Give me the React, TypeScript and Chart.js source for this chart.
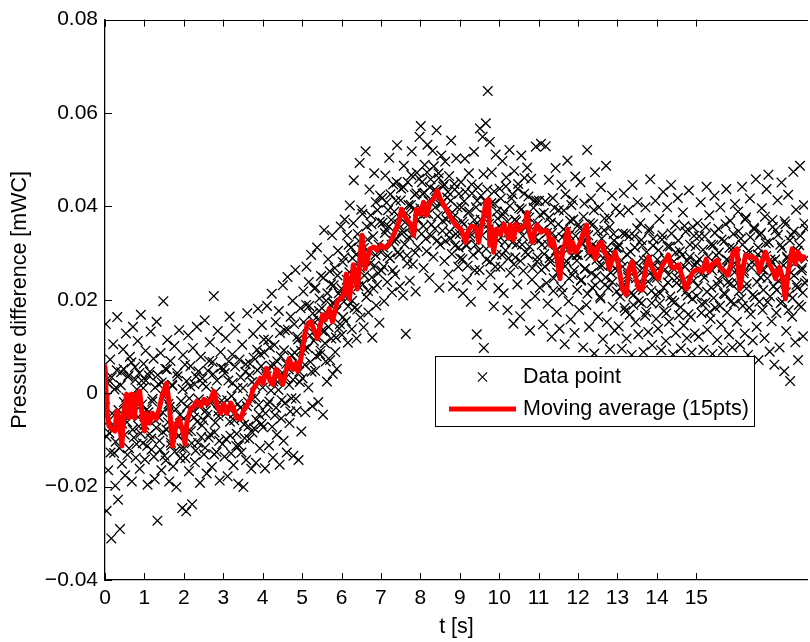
import React, { useEffect, useRef } from "react";
import { Chart, registerables } from "chart.js";

Chart.register(...registerables);

// ---------- data ----------
const X_MIN = 0;
const X_MAX = 17.83;
const Y_MIN = -0.04;
const Y_MAX = 0.08;

const xTickValues = [0, 1, 2, 3, 4, 5, 6, 7, 8, 9, 10, 11, 12, 13, 14, 15];
const xTickLabels = ["0", "1", "2", "3", "4", "5", "6", "7", "8", "9", "10", "11", "12", "13", "14", "15"];
const yTickValues = [-0.04, -0.02, 0, 0.02, 0.04, 0.06, 0.08];
const yTickLabels = ["\u22120.04", "\u22120.02", "0", "0.02", "0.04", "0.06", "0.08"];

const xTitle = "t [s]";
const yTitle = "Pressure difference [mWC]";
const scatterLabel = "Data point";
const avgLabel = "Moving average (15pts)";

// raw samples [t, dp]
const pointsSec0to3 = [
  [0.02,0.0148],[0.04,-0.0252],[0.06,0.0031],[0.08,-0.0165],[0.11,-0.0085],[0.13,0.0072],[0.16,-0.0311],[0.18,-0.0043],[0.21,0.0105],[0.23,-0.0128],[0.26,-0.0198],[0.28,0.0012],[0.31,0.0163],[0.33,-0.0228],[0.36,-0.0072],[0.38,-0.0291],[0.41,0.0045],[0.43,-0.0151],[0.46,0.0094],[0.48,-0.0019],[0.51,-0.0176],[0.53,0.0128],[0.56,-0.0062],[0.58,0.0035],[0.61,-0.0118],[0.63,0.0078],[0.66,-0.0024],[0.68,-0.0189],[0.71,0.0142],[0.73,-0.0095],[0.76,0.0056],[0.78,-0.0138],[0.81,0.0008],[0.83,0.0112],[0.86,-0.0071],[0.88,-0.0162],[0.91,0.0168],[0.93,0.0027],[0.96,-0.0107],[0.98,0.0063],
  [1.01,-0.0142],[1.03,0.0091],[1.06,-0.0035],[1.08,-0.0196],[1.11,0.0038],[1.13,-0.0087],[1.16,0.0132],[1.18,-0.0121],[1.21,-0.0012],[1.23,0.0074],[1.26,-0.0184],[1.28,-0.0058],[1.31,0.0153],[1.33,-0.0273],[1.36,0.0019],[1.38,-0.0102],[1.41,0.0086],[1.43,-0.0165],[1.46,-0.0041],[1.48,0.0197],[1.51,-0.0134],[1.53,0.0052],[1.56,-0.0078],[1.58,0.0114],[1.61,-0.0023],[1.63,-0.0189],[1.66,0.0069],[1.68,-0.0112],[1.71,0.0016],[1.73,-0.0157],[1.76,0.0101],[1.78,-0.0066],[1.81,-0.0201],[1.83,0.0043],[1.86,-0.0092],[1.88,0.0135],[1.91,-0.0139],[1.93,-0.0017],[1.96,-0.0246],[1.98,0.0082],
  [2.01,-0.0118],[2.03,0.0061],[2.06,-0.0253],[2.08,-0.0029],[2.11,0.0124],[2.13,-0.0167],[2.16,0.0015],[2.18,-0.0081],[2.21,-0.0238],[2.23,0.0097],[2.26,-0.0052],[2.28,-0.0148],[2.31,0.0036],[2.33,0.0142],[2.36,-0.0106],[2.38,-0.0013],[2.41,-0.0192],[2.43,0.0078],[2.46,-0.0069],[2.48,0.0021],[2.51,-0.0131],[2.53,0.0156],[2.56,-0.0037],[2.58,-0.0172],[2.61,0.0048],[2.63,-0.0095],[2.66,0.0109],[2.68,-0.0021],[2.71,-0.0158],[2.73,0.0067],[2.76,0.0208],[2.78,-0.0084],[2.81,0.0003],[2.83,-0.0126],[2.86,0.0133],[2.88,-0.0049],[2.91,-0.0187],[2.93,0.0088],[2.96,-0.0016],[2.98,-0.0109],
];

const pointsSec3to6 = [
  [3.01,0.0052],[3.03,-0.0136],[3.06,0.0118],[3.08,-0.0042],[3.11,-0.0178],[3.13,0.0027],[3.16,0.0164],[3.18,-0.0091],[3.21,-0.0006],[3.23,0.0083],[3.26,-0.0154],[3.28,-0.0058],[3.31,0.0139],[3.33,-0.0113],[3.36,0.0011],[3.38,-0.0194],[3.41,0.0072],[3.43,-0.0031],[3.46,-0.0127],[3.48,0.0104],[3.51,-0.0201],[3.53,-0.0067],[3.56,0.0046],[3.58,-0.0143],[3.61,0.0171],[3.63,-0.0019],[3.66,-0.0098],[3.68,0.0063],[3.71,-0.0162],[3.73,0.0024],[3.76,0.0127],[3.78,-0.0075],[3.81,-0.0008],[3.83,-0.0149],[3.86,0.0093],[3.88,0.0181],[3.91,-0.0046],[3.93,-0.0118],[3.96,0.0058],[3.98,0.0146],
  [4.01,-0.0073],[4.03,0.0115],[4.06,-0.0161],[4.08,0.0042],[4.11,0.0187],[4.13,-0.0024],[4.16,-0.0112],[4.18,0.0098],[4.21,0.0006],[4.23,0.0213],[4.26,-0.0138],[4.28,0.0061],[4.31,-0.0047],[4.33,0.0152],[4.36,-0.0089],[4.38,0.0024],[4.41,0.0176],[4.43,-0.0153],[4.46,0.0079],[4.48,-0.0015],[4.51,0.0231],[4.53,-0.0102],[4.56,0.0135],[4.58,0.0033],[4.61,-0.0127],[4.63,0.0249],[4.66,0.0051],[4.68,-0.0064],[4.71,0.0164],[4.73,-0.0011],[4.76,0.0198],[4.78,-0.0134],[4.81,0.0087],[4.83,0.0264],[4.86,-0.0038],[4.88,0.0121],[4.91,-0.0143],[4.93,0.0046],[4.96,0.0182],[4.98,-0.0082],
  [5.01,0.0032],[5.03,0.0218],[5.06,0.0094],[5.08,-0.0041],[5.11,0.0271],[5.13,0.0143],[5.16,0.0012],[5.18,0.0187],[5.21,0.0067],[5.23,0.0296],[5.26,-0.0028],[5.28,0.0155],[5.31,0.0224],[5.33,0.0048],[5.36,0.0119],[5.38,0.0312],[5.41,-0.0019],[5.43,0.0176],[5.46,0.0083],[5.48,0.0251],[5.51,0.0134],[5.53,-0.0046],[5.56,0.0349],[5.58,0.0107],[5.61,0.0198],[5.63,0.0025],[5.66,0.0287],[5.68,0.0162],[5.71,0.0071],[5.73,0.0233],[5.76,0.0338],[5.78,0.0041],[5.81,0.0192],[5.83,0.0268],[5.86,0.0119],[5.88,0.0052],[5.91,0.0305],[5.93,0.0214],[5.96,0.0148],[5.98,0.0357],
];

const pointsSec6to9 = [
  [6.01,0.0125],[6.03,0.0281],[6.06,0.0196],[6.08,0.0372],[6.11,0.0154],[6.13,0.0243],[6.16,0.0108],[6.18,0.0318],[6.21,0.0402],[6.23,0.0221],[6.26,0.0137],[6.28,0.0289],[6.31,0.0456],[6.33,0.0183],[6.36,0.0265],[6.38,0.0117],[6.41,0.0341],[6.43,0.0229],[6.46,0.0493],[6.48,0.0162],[6.51,0.0307],[6.53,0.0384],[6.56,0.0141],[6.58,0.0252],[6.61,0.0518],[6.63,0.0206],[6.66,0.0329],[6.68,0.0173],[6.71,0.0436],[6.73,0.0278],[6.76,0.0362],[6.78,0.0119],[6.81,0.0224],[6.83,0.0471],[6.86,0.0296],[6.88,0.0188],[6.91,0.0392],[6.93,0.0257],[6.96,0.0151],[6.98,0.0423],
  [7.01,0.0263],[7.03,0.0418],[7.06,0.0312],[7.08,0.0197],[7.11,0.0466],[7.13,0.0351],[7.16,0.0238],[7.18,0.0392],[7.21,0.0504],[7.23,0.0289],[7.26,0.0371],[7.28,0.0216],[7.31,0.0447],[7.33,0.0326],[7.36,0.0254],[7.38,0.0412],[7.41,0.0531],[7.43,0.0302],[7.46,0.0378],[7.48,0.0229],[7.51,0.0438],[7.53,0.0341],[7.56,0.0209],[7.58,0.0487],[7.61,0.0366],[7.63,0.0127],[7.66,0.0295],[7.68,0.0452],[7.71,0.0334],[7.73,0.0241],[7.76,0.0403],[7.78,0.0518],[7.81,0.0276],[7.83,0.0359],[7.86,0.0425],[7.88,0.0218],[7.91,0.0472],[7.93,0.0313],[7.96,0.0386],[7.98,0.0549],
  [8.01,0.0572],[8.03,0.0341],[8.06,0.0427],[8.08,0.0268],[8.11,0.0489],[8.13,0.0385],[8.16,0.0304],[8.18,0.0532],[8.21,0.0412],[8.23,0.0247],[8.26,0.0458],[8.28,0.0361],[8.31,0.0519],[8.33,0.0292],[8.36,0.0436],[8.38,0.0398],[8.41,0.0563],[8.43,0.0327],[8.46,0.0471],[8.48,0.0226],[8.51,0.0404],[8.53,0.0509],[8.56,0.0348],[8.58,0.0443],[8.61,0.0283],[8.63,0.0496],[8.66,0.0372],[8.68,0.0419],[8.71,0.0254],[8.73,0.0465],[8.76,0.0331],[8.78,0.0541],[8.81,0.0387],[8.83,0.0229],[8.86,0.0448],[8.88,0.0316],[8.91,0.0503],[8.93,0.0362],[8.96,0.0271],[8.98,0.0427],
];

const pointsSec9to12 = [
  [9.01,0.0289],[9.03,0.0452],[9.06,0.0367],[9.08,0.0214],[9.11,0.0411],[9.13,0.0502],[9.16,0.0318],[9.18,0.0243],[9.21,0.0386],[9.23,0.0471],[9.26,0.0335],[9.28,0.0196],[9.31,0.0428],[9.33,0.0354],[9.36,0.0517],[9.38,0.0263],[9.41,0.0398],[9.43,0.0126],[9.46,0.0441],[9.48,0.0305],[9.51,0.0567],[9.53,0.0372],[9.56,0.0231],[9.58,0.0549],[9.61,0.0097],[9.63,0.0412],[9.66,0.0578],[9.68,0.0286],[9.71,0.0647],[9.73,0.0351],[9.76,0.0538],[9.78,0.0254],[9.81,0.0473],[9.83,0.0329],[9.86,0.0186],[9.88,0.0406],[9.91,0.0511],[9.93,0.0297],[9.96,0.0374],[9.98,0.0225],
  [10.01,0.0438],[10.03,0.0271],[10.06,0.0352],[10.08,0.0497],[10.11,0.0214],[10.13,0.0389],[10.16,0.0306],[10.18,0.0462],[10.21,0.0178],[10.23,0.0344],[10.26,0.0521],[10.28,0.0258],[10.31,0.0417],[10.33,0.0323],[10.36,0.0149],[10.38,0.0476],[10.41,0.0291],[10.43,0.0368],[10.46,0.0233],[10.48,0.0448],[10.51,0.0396],[10.53,0.0165],[10.56,0.0509],[10.58,0.0318],[10.61,0.0262],[10.63,0.0427],[10.66,0.0354],[10.68,0.0191],[10.71,0.0483],[10.73,0.0297],[10.76,0.0376],[10.78,0.0134],[10.81,0.0459],[10.83,0.0243],[10.86,0.0331],[10.88,0.0412],[10.91,0.0208],[10.93,0.0528],[10.96,0.0282],[10.98,0.0363],
  [11.01,0.0412],[11.03,0.0226],[11.06,0.0534],[11.08,0.0318],[11.11,0.0147],[11.13,0.0386],[11.16,0.0271],[11.18,0.0529],[11.21,0.0343],[11.23,0.0192],[11.26,0.0457],[11.28,0.0289],[11.31,0.0365],[11.33,0.0121],[11.36,0.0418],[11.38,0.0246],[11.41,0.0333],[11.43,0.0482],[11.46,0.0174],[11.48,0.0307],[11.51,0.0392],[11.53,0.0138],[11.56,0.0263],[11.58,0.0446],[11.61,0.0215],[11.63,0.0351],[11.66,0.0105],[11.68,0.0426],[11.71,0.0282],[11.73,0.0498],[11.76,0.0197],[11.78,0.0339],[11.81,0.0158],[11.83,0.0403],[11.86,0.0253],[11.88,0.0372],[11.91,0.0129],[11.93,0.0464],[11.96,0.0296],[11.98,0.0221],
];

const pointsSec12to15 = [
  [12.01,0.0361],[12.03,0.0178],[12.06,0.0452],[12.08,0.0243],[12.11,0.0319],[12.13,0.0098],[12.16,0.0406],[12.18,0.0267],[12.21,0.0189],[12.23,0.0521],[12.26,0.0338],[12.28,0.0142],[12.31,0.0294],[12.33,0.0417],[12.36,0.0226],[12.38,0.0362],[12.41,0.0085],[12.43,0.0473],[12.46,0.0251],[12.48,0.0312],[12.51,0.0164],[12.53,0.0398],[12.56,0.0207],[12.58,0.0441],[12.61,0.0273],[12.63,0.0116],[12.66,0.0349],[12.68,0.0232],[12.71,0.0487],[12.73,0.0152],[12.76,0.0301],[12.78,0.0376],[12.81,0.0094],[12.83,0.0258],[12.86,0.0423],[12.88,0.0185],[12.91,0.0327],[12.93,0.0134],[12.96,0.0396],[12.98,0.0218],
  [13.01,0.0312],[13.03,0.0143],[13.06,0.0387],[13.08,0.0226],[13.11,0.0095],[13.13,0.0271],[13.16,0.0428],[13.18,0.0183],[13.21,0.0341],[13.23,0.0117],[13.26,0.0254],[13.28,0.0392],[13.31,0.0168],[13.33,0.0303],[13.36,0.0082],[13.38,0.0446],[13.41,0.0211],[13.43,0.0336],[13.46,0.0152],[13.48,0.0278],[13.51,0.0409],[13.53,0.0126],[13.56,0.0239],[13.58,0.0364],[13.61,0.0193],[13.63,0.0317],[13.66,0.0088],[13.68,0.0264],[13.71,0.0398],[13.73,0.0174],[13.76,0.0286],[13.78,0.0131],[13.81,0.0352],[13.83,0.0458],[13.86,0.0219],[13.88,0.0103],[13.91,0.0331],[13.93,0.0247],[13.96,0.0412],[13.98,0.0159],
  [14.01,0.0286],[14.03,0.0138],[14.06,0.0373],[14.08,0.0214],[14.11,0.0092],[14.13,0.0329],[14.16,0.0431],[14.18,0.0176],[14.21,0.0265],[14.23,0.0112],[14.26,0.0398],[14.28,0.0237],[14.31,0.0153],[14.33,0.0314],[14.36,0.0446],[14.38,0.0198],[14.41,0.0083],[14.43,0.0282],[14.46,0.0361],[14.48,0.0129],[14.51,0.0247],[14.53,0.0418],[14.56,0.0167],[14.58,0.0304],[14.61,0.0096],[14.63,0.0226],[14.66,0.0387],[14.68,0.0145],[14.71,0.0271],[14.73,0.0346],[14.76,0.0118],[14.78,0.0209],[14.81,0.0434],[14.83,0.0292],[14.86,0.0163],[14.88,0.0087],[14.91,0.0356],[14.93,0.0241],[14.96,0.0128],[14.98,0.0315],
];

const pointsSec15to18 = [
  [15.01,0.0208],[15.03,0.0364],[15.06,0.0121],[15.08,0.0287],[15.11,0.0409],[15.13,0.0172],[15.16,0.0258],[15.18,0.0093],[15.21,0.0336],[15.23,0.0194],[15.26,0.0442],[15.28,0.0136],[15.31,0.0273],[15.33,0.0381],[15.36,0.0159],[15.38,0.0226],[15.41,0.0084],[15.43,0.0317],[15.46,0.0423],[15.48,0.0183],[15.51,0.0295],[15.53,0.0114],[15.56,0.0352],[15.58,0.0241],[15.61,0.0398],[15.63,0.0147],[15.66,0.0268],[15.68,0.0091],[15.71,0.0326],[15.73,0.0212],[15.76,0.0437],[15.78,0.0173],[15.81,0.0284],[15.83,0.0126],[15.86,0.0369],[15.88,0.0235],[15.91,0.0098],[15.93,0.0311],[15.96,0.0192],[15.98,0.0405],
  [16.01,0.0276],[16.03,0.0153],[16.06,0.0389],[16.08,0.0218],[16.11,0.0104],[16.13,0.0331],[16.16,0.0442],[16.18,0.0187],[16.21,0.0262],[16.23,0.0128],[16.26,0.0376],[16.28,0.0234],[16.31,0.0082],[16.33,0.0305],[16.36,0.0417],[16.38,0.0169],[16.41,0.0281],[16.43,0.0113],[16.46,0.0354],[16.48,0.0206],[16.51,0.0458],[16.53,0.0142],[16.56,0.0297],[16.58,0.0071],[16.61,0.0339],[16.63,0.0248],[16.66,0.0396],[16.68,0.0178],[16.71,0.0264],[16.73,0.0118],[16.76,0.0321],[16.78,0.0437],[16.81,0.0195],[16.83,0.0468],[16.86,0.0089],[16.88,0.0286],[16.91,0.0154],[16.93,0.0371],[16.96,0.0229],[16.98,0.0061],
  [17.01,0.0349],[17.03,0.0172],[17.06,0.0413],[17.08,0.0241],[17.11,0.0098],[17.13,0.0318],[17.16,0.0451],[17.18,0.0196],[17.21,0.0274],[17.23,0.0047],[17.26,0.0362],[17.28,0.0133],[17.31,0.0289],[17.33,0.0425],[17.36,0.0211],[17.38,0.0026],[17.41,0.0338],[17.43,0.0164],[17.46,0.0474],[17.48,0.0252],[17.51,0.0109],[17.53,0.0393],[17.56,0.0226],[17.58,0.0071],[17.61,0.0317],[17.63,0.0487],[17.66,0.0185],[17.68,0.0268],[17.71,0.0122],[17.73,0.0403],[17.76,0.0236],[17.78,0.0352],
];

// additional samples of the dense core around the trend [t, dp]
const corePointsSec0to6 = [
  [0.00,-0.0012],[0.04,-0.0093],[0.07,0.0021],[0.10,-0.0058],[0.14,-0.0127],[0.17,0.0034],[0.20,-0.0071],[0.24,0.0008],[0.27,-0.0104],[0.30,0.0049],[0.34,-0.0036],[0.37,-0.0118],[0.40,0.0017],[0.44,-0.0065],[0.47,0.0052],[0.50,-0.0089],[0.54,-0.0009],[0.57,-0.0132],[0.60,0.0038],[0.64,-0.0047],[0.67,0.0066],[0.70,-0.0078],[0.74,-0.0016],[0.77,0.0029],[0.80,-0.0109],[0.84,-0.0051],[0.87,0.0043],[0.90,-0.0086],[0.94,-0.0024],[0.97,0.0011],
  [1.00,-0.0068],[1.04,0.0027],[1.07,-0.0113],[1.10,-0.0041],[1.14,0.0046],[1.17,-0.0097],[1.20,-0.0018],[1.24,-0.0136],[1.27,0.0012],[1.30,-0.0074],[1.34,0.0039],[1.37,-0.0052],[1.40,-0.0121],[1.44,0.0023],[1.47,-0.0083],[1.50,-0.0007],[1.54,-0.0144],[1.57,0.0051],[1.60,-0.0062],[1.64,-0.0029],[1.67,-0.0106],[1.70,0.0018],[1.74,-0.0079],[1.77,-0.0125],[1.80,-0.0034],[1.84,0.0036],[1.87,-0.0091],[1.90,-0.0047],[1.94,-0.0118],[1.97,0.0009],
  [2.00,-0.0054],[2.04,-0.0139],[2.07,0.0026],[2.10,-0.0082],[2.14,-0.0011],[2.17,0.0058],[2.20,-0.0107],[2.24,-0.0038],[2.27,0.0019],[2.30,-0.0123],[2.34,-0.0061],[2.37,0.0047],[2.40,-0.0029],[2.44,-0.0094],[2.47,0.0032],[2.50,-0.0058],[2.54,-0.0117],[2.57,0.0014],[2.60,-0.0046],[2.64,0.0069],[2.67,-0.0088],[2.70,-0.0017],[2.74,0.0041],[2.77,-0.0131],[2.80,-0.0063],[2.84,0.0027],[2.87,-0.0039],[2.90,-0.0102],[2.94,0.0055],[2.97,-0.0024],
  [3.00,-0.0036],[3.04,0.0043],[3.07,-0.0098],[3.10,-0.0015],[3.14,0.0068],[3.17,-0.0061],[3.20,-0.0129],[3.24,0.0022],[3.27,-0.0044],[3.30,0.0057],[3.34,-0.0087],[3.37,-0.0023],[3.40,-0.0112],[3.44,0.0034],[3.47,-0.0053],[3.50,0.0011],[3.54,-0.0096],[3.57,0.0062],[3.60,-0.0028],[3.64,-0.0071],[3.67,0.0039],[3.70,-0.0012],[3.74,-0.0084],[3.77,0.0076],[3.80,0.0018],[3.84,-0.0057],[3.87,0.0049],[3.90,-0.0025],[3.94,0.0083],[3.97,-0.0066],
  [4.00,0.0012],[4.04,0.0087],[4.07,-0.0043],[4.10,0.0036],[4.14,0.0114],[4.17,-0.0018],[4.20,0.0059],[4.24,-0.0072],[4.27,0.0025],[4.30,0.0103],[4.34,-0.0031],[4.37,0.0068],[4.40,0.0007],[4.44,0.0129],[4.47,-0.0054],[4.50,0.0044],[4.54,0.0092],[4.57,-0.0021],[4.60,0.0063],[4.64,0.0136],[4.67,0.0018],[4.70,-0.0039],[4.74,0.0081],[4.77,0.0029],[4.80,0.0148],[4.84,-0.0012],[4.87,0.0067],[4.90,0.0115],[4.94,0.0024],[4.97,0.0091],
  [5.00,0.0103],[5.04,0.0152],[5.07,0.0061],[5.10,0.0189],[5.14,0.0097],[5.17,0.0238],[5.20,0.0124],[5.24,0.0046],[5.27,0.0171],[5.30,0.0112],[5.34,0.0226],[5.37,0.0079],[5.40,0.0158],[5.44,0.0203],[5.47,0.0091],[5.50,0.0182],[5.54,0.0247],[5.57,0.0133],[5.60,0.0068],[5.64,0.0214],[5.67,0.0142],[5.70,0.0261],[5.74,0.0117],[5.77,0.0193],[5.80,0.0231],[5.84,0.0088],[5.87,0.0176],[5.90,0.0252],[5.94,0.0139],[5.97,0.0209],
];

const corePointsSec6to12 = [
  [6.00,0.0224],[6.04,0.0163],[6.07,0.0291],[6.10,0.0207],[6.14,0.0338],[6.17,0.0186],[6.20,0.0259],[6.24,0.0312],[6.27,0.0198],[6.30,0.0364],[6.34,0.0241],[6.37,0.0297],[6.40,0.0179],[6.44,0.0326],[6.47,0.0268],[6.50,0.0393],[6.54,0.0233],[6.57,0.0311],[6.60,0.0284],[6.64,0.0357],[6.67,0.0219],[6.70,0.0304],[6.74,0.0381],[6.77,0.0248],[6.80,0.0336],[6.84,0.0273],[6.87,0.0409],[6.90,0.0232],[6.94,0.0318],[6.97,0.0367],
  [7.00,0.0302],[7.04,0.0365],[7.07,0.0271],[7.10,0.0343],[7.14,0.0408],[7.17,0.0294],[7.20,0.0357],[7.24,0.0426],[7.27,0.0318],[7.30,0.0263],[7.34,0.0389],[7.37,0.0331],[7.40,0.0452],[7.44,0.0362],[7.47,0.0297],[7.50,0.0413],[7.54,0.0348],[7.57,0.0441],[7.60,0.0319],[7.64,0.0386],[7.67,0.0278],[7.70,0.0403],[7.74,0.0356],[7.77,0.0467],[7.80,0.0338],[7.84,0.0394],[7.87,0.0301],[7.90,0.0428],[7.94,0.0372],[7.97,0.0459],
  [8.00,0.0396],[8.04,0.0452],[8.07,0.0358],[8.10,0.0429],[8.14,0.0331],[8.17,0.0473],[8.20,0.0384],[8.24,0.0441],[8.27,0.0337],[8.30,0.0412],[8.34,0.0486],[8.37,0.0352],[8.40,0.0433],[8.44,0.0379],[8.47,0.0461],[8.50,0.0318],[8.54,0.0407],[8.57,0.0369],[8.60,0.0447],[8.64,0.0326],[8.67,0.0393],[8.70,0.0431],[8.74,0.0346],[8.77,0.0412],[8.80,0.0298],[8.84,0.0377],[8.87,0.0436],[8.90,0.0341],[8.94,0.0398],[8.97,0.0312],
  [9.00,0.0341],[9.04,0.0398],[9.07,0.0287],[9.10,0.0362],[9.14,0.0431],[9.17,0.0316],[9.20,0.0273],[9.24,0.0389],[9.27,0.0342],[9.30,0.0447],[9.34,0.0296],[9.37,0.0371],[9.40,0.0318],[9.44,0.0412],[9.47,0.0357],[9.50,0.0264],[9.54,0.0423],[9.57,0.0338],[9.60,0.0469],[9.64,0.0381],[9.67,0.0309],[9.70,0.0436],[9.74,0.0363],[9.77,0.0282],[9.80,0.0407],[9.84,0.0346],[9.87,0.0432],[9.90,0.0271],[9.94,0.0389],[9.97,0.0327],
  [10.00,0.0358],[10.04,0.0417],[10.07,0.0296],[10.10,0.0382],[10.14,0.0324],[10.17,0.0443],[10.20,0.0367],[10.24,0.0289],[10.27,0.0401],[10.30,0.0343],[10.34,0.0426],[10.37,0.0276],[10.40,0.0372],[10.44,0.0319],[10.47,0.0438],[10.50,0.0351],[10.54,0.0283],[10.57,0.0394],[10.60,0.0337],[10.64,0.0461],[10.67,0.0302],[10.70,0.0378],[10.74,0.0421],[10.77,0.0314],[10.80,0.0356],[10.84,0.0268],[10.87,0.0397],[10.90,0.0333],[10.94,0.0412],[10.97,0.0291],
  [11.00,0.0327],[11.04,0.0382],[11.07,0.0264],[11.10,0.0349],[11.14,0.0298],[11.17,0.0411],[11.20,0.0236],[11.24,0.0318],[11.27,0.0376],[11.30,0.0281],[11.34,0.0343],[11.37,0.0219],[11.40,0.0397],[11.44,0.0306],[11.47,0.0258],[11.50,0.0362],[11.54,0.0289],[11.57,0.0227],[11.60,0.0334],[11.64,0.0391],[11.67,0.0272],[11.70,0.0346],[11.74,0.0308],[11.77,0.0246],[11.80,0.0369],[11.84,0.0295],[11.87,0.0413],[11.90,0.0263],[11.94,0.0337],[11.97,0.0284],
];

const corePointsSec12to18 = [
  [12.00,0.0296],[12.04,0.0353],[12.07,0.0241],[12.10,0.0322],[12.14,0.0378],[12.17,0.0266],[12.20,0.0339],[12.24,0.0213],[12.27,0.0301],[12.30,0.0364],[12.34,0.0257],[12.37,0.0318],[12.40,0.0392],[12.44,0.0231],[12.47,0.0286],[12.50,0.0347],[12.54,0.0272],[12.57,0.0203],[12.60,0.0331],[12.64,0.0289],[12.67,0.0374],[12.70,0.0248],[12.74,0.0312],[12.77,0.0226],[12.80,0.0356],[12.84,0.0293],[12.87,0.0238],[12.90,0.0341],[12.94,0.0267],[12.97,0.0311],
  [13.00,0.0263],[13.04,0.0318],[13.07,0.0207],[13.10,0.0284],[13.14,0.0342],[13.17,0.0231],[13.20,0.0176],[13.24,0.0297],[13.27,0.0248],[13.30,0.0336],[13.34,0.0214],[13.37,0.0271],[13.40,0.0189],[13.44,0.0312],[13.47,0.0246],[13.50,0.0353],[13.54,0.0197],[13.57,0.0262],[13.60,0.0328],[13.64,0.0221],[13.67,0.0284],[13.70,0.0166],[13.74,0.0302],[13.77,0.0239],[13.80,0.0347],[13.84,0.0258],[13.87,0.0193],[13.90,0.0316],[13.94,0.0274],[13.97,0.0211],
  [14.00,0.0247],[14.04,0.0306],[14.07,0.0192],[14.10,0.0273],[14.14,0.0338],[14.17,0.0226],[14.20,0.0289],[14.24,0.0171],[14.27,0.0314],[14.30,0.0253],[14.34,0.0207],[14.37,0.0342],[14.40,0.0268],[14.44,0.0194],[14.47,0.0301],[14.50,0.0236],[14.54,0.0327],[14.57,0.0262],[14.60,0.0184],[14.64,0.0296],[14.67,0.0241],[14.70,0.0358],[14.74,0.0218],[14.77,0.0283],[14.80,0.0169],[14.84,0.0318],[14.87,0.0257],[14.90,0.0202],[14.94,0.0337],[14.97,0.0274],
  [15.00,0.0281],[15.04,0.0229],[15.07,0.0336],[15.10,0.0262],[15.14,0.0191],[15.17,0.0307],[15.20,0.0248],[15.24,0.0356],[15.27,0.0217],[15.30,0.0292],[15.34,0.0174],[15.37,0.0318],[15.40,0.0263],[15.44,0.0204],[15.47,0.0343],[15.50,0.0276],[15.54,0.0232],[15.57,0.0301],[15.60,0.0187],[15.64,0.0329],[15.67,0.0254],[15.70,0.0214],[15.74,0.0362],[15.77,0.0286],[15.80,0.0237],[15.84,0.0311],[15.87,0.0196],[15.90,0.0273],[15.94,0.0341],[15.97,0.0259],
  [16.00,0.0298],[16.04,0.0236],[16.07,0.0347],[16.10,0.0271],[16.14,0.0203],[16.17,0.0318],[16.20,0.0257],[16.24,0.0372],[16.27,0.0224],[16.30,0.0296],[16.34,0.0183],[16.37,0.0334],[16.40,0.0269],[16.44,0.0211],[16.47,0.0351],[16.50,0.0287],[16.54,0.0238],[16.57,0.0312],[16.60,0.0196],[16.64,0.0343],[16.67,0.0265],[16.70,0.0221],[16.74,0.0378],[16.77,0.0294],[16.80,0.0246],[16.84,0.0323],[16.87,0.0207],[16.90,0.0281],[16.94,0.0356],[16.97,0.0262],
  [17.00,0.0286],[17.04,0.0221],[17.07,0.0339],[17.10,0.0264],[17.14,0.0193],[17.17,0.0311],[17.20,0.0247],[17.24,0.0368],[17.27,0.0216],[17.30,0.0292],[17.34,0.0178],[17.37,0.0327],[17.40,0.0258],[17.44,0.0204],[17.47,0.0346],[17.50,0.0279],[17.54,0.0232],[17.57,0.0305],[17.60,0.0189],[17.64,0.0337],[17.67,0.0263],[17.70,0.0215],[17.74,0.0364],[17.77,0.0288],[17.80,0.0241],
];

// moving average (15 pts) [t, dp]
const movingAverage = [
  [0.00,0.0057],[0.03,-0.0006],[0.05,-0.0038],[0.10,-0.0070],[0.18,-0.0077],[0.25,-0.0081],[0.30,-0.0038],[0.35,-0.0049],[0.43,-0.0113],[0.48,-0.0038],
  [0.55,-0.0002],[0.60,-0.0053],[0.68,-0.0002],[0.75,-0.0053],[0.80,-0.0002],[0.88,0.0004],[0.95,-0.0053],[1.00,-0.0081],[1.05,-0.0043],[1.13,-0.0064],
  [1.20,-0.0043],[1.30,-0.0055],[1.38,-0.0032],[1.46,-0.0002],[1.56,0.0021],[1.63,-0.0023],[1.71,-0.0113],[1.81,-0.0066],[1.88,-0.0055],[1.96,-0.0077],
  [2.03,-0.0109],[2.08,-0.0060],[2.18,-0.0032],[2.26,-0.0028],[2.33,-0.0017],[2.43,-0.0028],[2.51,-0.0013],[2.58,-0.0023],[2.68,-0.0013],[2.76,0.0004],
  [2.83,-0.0023],[2.93,-0.0043],[3.01,-0.0023],[3.09,-0.0043],[3.19,-0.0021],[3.26,-0.0032],[3.34,-0.0053],[3.44,-0.0055],[3.51,-0.0038],[3.59,-0.0028],
  [3.69,-0.0011],[3.76,0.0009],[3.84,0.0019],[3.94,0.0032],[4.01,0.0021],[4.09,0.0053],[4.19,0.0026],[4.26,0.0019],[4.34,0.0051],[4.44,0.0034],
  [4.51,0.0019],[4.59,0.0047],[4.67,0.0074],[4.77,0.0051],[4.84,0.0064],[4.89,0.0047],[4.97,0.0074],[5.07,0.0126],[5.14,0.0149],[5.22,0.0153],
  [5.32,0.0132],[5.39,0.0117],[5.47,0.0149],[5.52,0.0168],[5.59,0.0157],[5.69,0.0181],[5.77,0.0153],[5.84,0.0179],[5.89,0.0196],[5.99,0.0204],
  [6.07,0.0213],[6.12,0.0255],[6.20,0.0202],[6.30,0.0275],[6.40,0.0223],[6.47,0.0292],[6.52,0.0338],[6.60,0.0266],[6.67,0.0292],[6.72,0.0309],
  [6.82,0.0313],[6.90,0.0306],[7.00,0.0317],[7.10,0.0311],[7.20,0.0319],[7.32,0.0338],[7.45,0.0366],[7.52,0.0394],[7.65,0.0372],[7.75,0.0362],
  [7.83,0.0338],[7.90,0.0394],[8.00,0.0383],[8.08,0.0409],[8.15,0.0381],[8.25,0.0409],[8.33,0.0415],[8.43,0.0434],[8.50,0.0417],[8.60,0.0402],
  [8.70,0.0387],[8.80,0.0372],[8.90,0.0360],[9.03,0.0351],[9.15,0.0323],[9.23,0.0351],[9.31,0.0358],[9.41,0.0355],[9.48,0.0323],[9.56,0.0362],
  [9.61,0.0381],[9.66,0.0409],[9.73,0.0415],[9.76,0.0317],[9.81,0.0353],[9.86,0.0302],[9.93,0.0351],[10.03,0.0340],[10.11,0.0362],[10.16,0.0351],
  [10.23,0.0332],[10.28,0.0360],[10.36,0.0328],[10.43,0.0362],[10.51,0.0349],[10.58,0.0355],[10.66,0.0362],[10.71,0.0387],[10.76,0.0345],[10.84,0.0323],
  [10.91,0.0351],[10.96,0.0360],[11.06,0.0345],[11.16,0.0349],[11.24,0.0345],[11.29,0.0317],[11.36,0.0330],[11.44,0.0302],[11.54,0.0245],[11.61,0.0309],
  [11.66,0.0317],[11.74,0.0351],[11.79,0.0302],[11.86,0.0323],[11.94,0.0302],[12.04,0.0319],[12.11,0.0338],[12.21,0.0360],[12.29,0.0302],[12.37,0.0311],
  [12.44,0.0287],[12.52,0.0317],[12.59,0.0323],[12.67,0.0302],[12.74,0.0292],[12.79,0.0266],[12.87,0.0287],[12.94,0.0302],[13.02,0.0277],[13.12,0.0223],
  [13.22,0.0211],[13.29,0.0266],[13.37,0.0281],[13.47,0.0245],[13.54,0.0223],[13.62,0.0221],[13.72,0.0270],[13.79,0.0292],[13.87,0.0270],[13.97,0.0253],
  [14.04,0.0245],[14.12,0.0270],[14.22,0.0285],[14.29,0.0296],[14.37,0.0270],[14.45,0.0268],[14.55,0.0275],[14.62,0.0255],[14.70,0.0232],[14.75,0.0223],
  [14.85,0.0249],[14.92,0.0260],[15.05,0.0266],[15.15,0.0260],[15.25,0.0287],[15.32,0.0260],[15.42,0.0277],[15.53,0.0285],[15.60,0.0270],[15.68,0.0264],
  [15.80,0.0253],[15.88,0.0277],[15.93,0.0302],[16.03,0.0309],[16.10,0.0223],[16.18,0.0264],[16.25,0.0296],[16.33,0.0292],[16.43,0.0292],[16.53,0.0285],
  [16.60,0.0260],[16.68,0.0285],[16.75,0.0302],[16.85,0.0277],[16.93,0.0264],[17.01,0.0245],[17.11,0.0270],[17.18,0.0249],[17.26,0.0202],[17.33,0.0260],
  [17.43,0.0309],[17.51,0.0277],[17.58,0.0302],[17.66,0.0285],[17.73,0.0292],
];

// ---------- styling ----------
const FONT_FAMILY = '"Liberation Sans", Arial, Helvetica, sans-serif';
const TICK_FONT = { family: FONT_FAMILY, size: 21 };
const TITLE_FONT = { family: FONT_FAMILY, size: 21.5 };
const LEGEND_FONT_SIZE = 21.5;
const AVG_COLOR = "#ff0000";

const toXY = (arr: number[][]) => arr.map(([x, y]) => ({ x, y }));

function drawCross(ctx: CanvasRenderingContext2D, x: number, y: number, h: number) {
  ctx.moveTo(x - h, y - h);
  ctx.lineTo(x + h, y + h);
  ctx.moveTo(x - h, y + h);
  ctx.lineTo(x + h, y - h);
}

const framePlugin = {
  id: "matlabFrame",
  afterDraw(chart: any) {
    const { ctx, chartArea, scales } = chart;
    const { left, right, top, bottom } = chartArea;
    const tl = 7;
    ctx.save();
    ctx.strokeStyle = "#000";
    ctx.lineWidth = 1;
    ctx.beginPath();
    ctx.moveTo(left, Math.round(top) + 0.5);
    ctx.lineTo(right, Math.round(top) + 0.5);
    xTickValues.forEach((v) => {
      const px = Math.round(scales.x.getPixelForValue(v)) + 0.5;
      ctx.moveTo(px, bottom);
      ctx.lineTo(px, bottom - tl);
      ctx.moveTo(px, top);
      ctx.lineTo(px, top + tl);
    });
    yTickValues.forEach((v) => {
      const py = Math.round(scales.y.getPixelForValue(v)) + 0.5;
      ctx.moveTo(left, py);
      ctx.lineTo(left + tl, py);
    });
    ctx.stroke();

    // legend box
    const bx = 435.5, by = 356.5, bw = 319, bh = 70;
    ctx.fillStyle = "#fff";
    ctx.fillRect(bx, by, bw, bh);
    ctx.strokeStyle = "#000";
    ctx.lineWidth = 1;
    ctx.strokeRect(bx, by, bw, bh);

    const row1 = 377, row2 = 409;
    ctx.beginPath();
    ctx.strokeStyle = "#000";
    ctx.lineWidth = 1.2;
    drawCross(ctx, 482.5, row1, 4.6);
    ctx.stroke();

    ctx.beginPath();
    ctx.strokeStyle = AVG_COLOR;
    ctx.lineWidth = 5;
    ctx.moveTo(449, row2);
    ctx.lineTo(516, row2);
    ctx.stroke();

    ctx.fillStyle = "#000";
    ctx.font = `${LEGEND_FONT_SIZE}px ${FONT_FAMILY}`;
    ctx.textAlign = "left";
    ctx.textBaseline = "middle";
    ctx.fillText(chart.data.datasets[0].label, 523, row1);
    ctx.fillText(chart.data.datasets[1].label, 523, row2);
    ctx.restore();
  },
};

export default function App() {
  const canvasRef = useRef<HTMLCanvasElement | null>(null);

  useEffect(() => {
    const canvas = canvasRef.current;
    if (!canvas) return;
    const scatterData = toXY([
      ...pointsSec0to3,
      ...pointsSec3to6,
      ...pointsSec6to9,
      ...pointsSec9to12,
      ...pointsSec12to15,
      ...pointsSec15to18,
      ...corePointsSec0to6,
      ...corePointsSec6to12,
      ...corePointsSec12to18,
    ]);
    const chart = new Chart(canvas, {
      type: "scatter",
      data: {
        datasets: [
          {
            label: scatterLabel,
            data: scatterData,
            pointStyle: "crossRot",
            pointRadius: 6.8,
            pointBorderWidth: 1.3,
            borderColor: "#000",
            backgroundColor: "#000",
            showLine: false,
            order: 1,
          },
          {
            type: "line",
            label: avgLabel,
            data: toXY(movingAverage),
            borderColor: AVG_COLOR,
            backgroundColor: AVG_COLOR,
            borderWidth: 5,
            pointRadius: 0,
            tension: 0,
            fill: false,
            borderJoinStyle: "round",
            borderCapStyle: "round",
            order: 0,
          } as any,
        ],
      },
      options: {
        responsive: false,
        animation: false,
        devicePixelRatio: 1,
        events: [],
        layout: { padding: { top: 16, right: 0, bottom: 0, left: 0 } },
        plugins: {
          legend: { display: false },
          tooltip: { enabled: false },
        },
        scales: {
          x: {
            type: "linear",
            position: "bottom",
            min: X_MIN,
            max: X_MAX,
            afterBuildTicks: (scale: any) => {
              scale.ticks = xTickValues.map((v) => ({ value: v }));
            },
            afterFit: (scale: any) => {
              scale.height = 62;
            },
            ticks: {
              autoSkip: false,
              maxRotation: 0,
              minRotation: 0,
              padding: 6,
              color: "#000",
              font: TICK_FONT,
              callback: (v: any) => {
                const i = xTickValues.findIndex((t) => Math.abs(t - v) < 1e-9);
                return i >= 0 ? xTickLabels[i] : "";
              },
            },
            grid: { display: false, drawTicks: false },
            border: { display: true, color: "#000", width: 1.3 },
            title: {
              display: true,
              text: xTitle,
              color: "#000",
              font: TITLE_FONT,
              padding: { top: 0, bottom: 2 },
            },
          },
          y: {
            type: "linear",
            min: Y_MIN,
            max: Y_MAX,
            afterBuildTicks: (scale: any) => {
              scale.ticks = yTickValues.map((v) => ({ value: v }));
            },
            afterFit: (scale: any) => {
              scale.width = 105;
            },
            ticks: {
              padding: 7,
              color: "#000",
              font: TICK_FONT,
              callback: (v: any) => {
                const i = yTickValues.findIndex((t) => Math.abs(t - v) < 1e-9);
                return i >= 0 ? yTickLabels[i] : "";
              },
            },
            grid: { display: false, drawTicks: false },
            border: { display: true, color: "#000", width: 1.3 },
            title: {
              display: true,
              text: yTitle,
              color: "#000",
              font: TITLE_FONT,
              padding: { top: 7, bottom: 0 },
            },
          },
        },
      },
      plugins: [framePlugin],
    });
    return () => chart.destroy();
  }, []);

  return (
    <div
      style={{
        position: "absolute",
        left: 0,
        top: 0,
        width: 810,
        height: 642,
        overflow: "hidden",
        background: "#fff",
      }}
    >
      <canvas ref={canvasRef} width={816} height={642} style={{ display: "block" }} />
    </div>
  );
}
